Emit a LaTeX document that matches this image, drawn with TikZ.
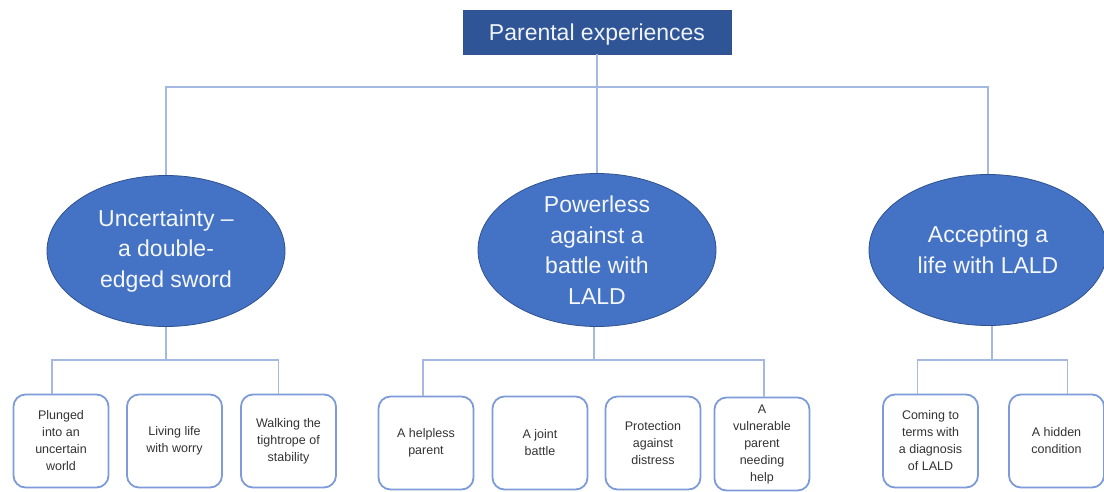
\documentclass[tikz,border=0pt]{standalone}
\usepackage{fontspec}
\setmainfont{Liberation Sans}
\usetikzlibrary{shapes.geometric}
\definecolor{pexdark}{HTML}{2F5597}
\definecolor{pexmid}{HTML}{4472C4}
\definecolor{pexedge}{HTML}{2F528F}
\definecolor{pexline}{HTML}{A4B8E2}
\definecolor{pexbox}{HTML}{7D9BD8}
\definecolor{pextext}{HTML}{333333}

\begin{document}
\begin{tikzpicture}[x=1pt,y=-1pt,
  titlebox/.style={rectangle, draw=pexedge, fill=pexdark, text=white!92!pexmid,
    minimum width=268pt, minimum height=44pt, inner sep=0pt, text depth=0pt,
    font=\fontsize{23}{28}\selectfont},
  theme/.style={ellipse, draw=pexedge, line width=0.8pt, fill=pexmid, text=white!94!pexmid,
    minimum width=238pt, minimum height=151pt, inner sep=0pt, align=center,
    font=\fontsize{23}{30.5}\selectfont},
  subtheme/.style={rectangle, rounded corners=12pt, draw=pexbox, line width=1.8pt,
    fill=white, text=pextext, minimum width=95pt, minimum height=93pt,
    inner sep=0pt, align=center, font=\fontsize{12.5}{17}\selectfont},
  link/.style={draw=pexline, line width=1.5pt}]
\useasboundingbox (0,0) rectangle (1104,491);

\node[titlebox] (top) at (597,32) {Parental experiences};

\node[theme] (u) at (166,251) {Uncertainty --\\a double-\\edged sword};
\node[theme] (p) at (597,250) {Powerless\\against a\\battle with\\LALD};
\node[theme] (a) at (988,250) {Accepting a\\life with LALD};

\node[subtheme] (u1) at (61,441)    {Plunged\\into an\\uncertain\\world};
\node[subtheme] (u2) at (174.5,441) {Living life\\with worry};
\node[subtheme] (u3) at (288.5,441) {Walking the\\tightrope of\\stability};

\node[subtheme] (p1) at (426,443) {A helpless\\parent};
\node[subtheme] (p2) at (540,443) {A joint\\battle};
\node[subtheme] (p3) at (653,443) {Protection\\against\\distress};
\node[subtheme] (p4) at (762,444) {A\\vulnerable\\parent\\needing\\help};

\node[subtheme] (a1) at (930.5,441)  {Coming to\\terms with\\a diagnosis\\of LALD};
\node[subtheme] (a2) at (1056.5,441) {A hidden\\condition};

% top level
\draw[link] (top.south) -- (top.south |- 0,87) -- (p.north);
\draw[link] (u.north) -- (u.north |- 0,87) -- (a.north |- 0,87) -- (a.north);

% second level, outer boxes only
\draw[link] ([xshift=-9pt]u1.north) |- (u.south |- 0,360) -| ([xshift=-10pt]u3.north);
\draw[link] (u.south) -- (u.south |- 0,360);
\draw[link] ([xshift=-3pt]p1.north) |- (p.south |- 0,360) -| ([xshift=2pt]p4.north);
\draw[link] ([xshift=-3pt]p.south) -- ([xshift=-3pt]p.south |- 0,360);
\draw[link] ([xshift=-13pt]a1.north) |- (a.south |- 0,360) -| ([xshift=11pt]a2.north);
\draw[link] ([xshift=4pt]a.south) -- ([xshift=4pt]a.south |- 0,360);
\end{tikzpicture}
\end{document}
